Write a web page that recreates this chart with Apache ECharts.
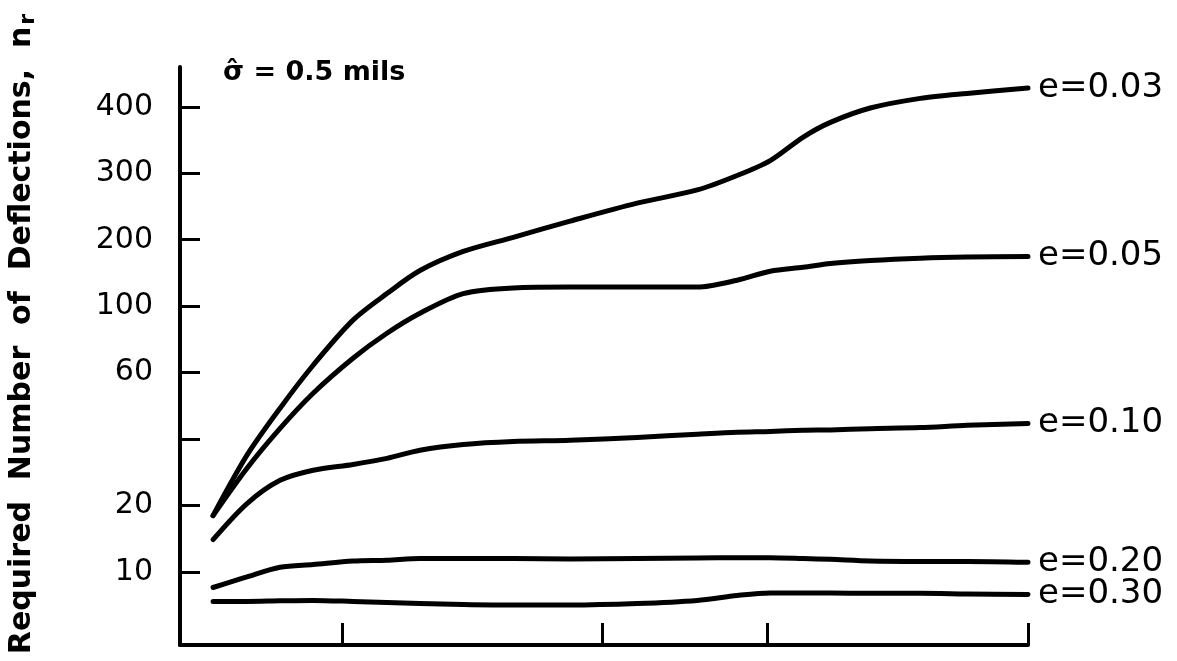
<!DOCTYPE html>
<html>
<head>
<meta charset="utf-8">
<script src="https://cdn.jsdelivr.net/npm/echarts@6/dist/echarts.min.js"></script>
<style>
  html, body { margin: 0; padding: 0; background: #fff; }
  #chart { width: 1177px; height: 661px; }
</style>
</head>
<body>
<div id="chart"></div>
<script>
// Horizontal positions of the sampled points (0 = left axis, 100 = right end)
const xPos = [3.9, 7.9, 11.8, 15.7, 20.4, 24.4, 28.3, 33.4, 39.3, 46.0, 53.9, 61.0, 65.7, 69.6, 73.5, 76.7, 81.4, 87.3, 92.8, 100];
const xTicks = [19.1, 49.8, 69.2, 100];

// Required number of deflections n_r for each tolerance e
const e003 = [18.0, 33.8, 48.3, 63.5, 89.8, 114, 145, 177, 203, 224, 250, 271, 296, 317, 351, 374, 398, 415, 424, 434];
const e005 = [18.0, 29.5, 42.7, 52.9, 67.0, 81.2, 94.7, 114, 121, 122, 122, 122, 131, 144, 150, 156, 161, 165, 167, 168];
const e010 = [14.0, 20.4, 26.0, 28.9, 30.7, 32.7, 35.6, 37.8, 39.0, 39.5, 40.4, 41.2, 41.7, 41.9, 42.2, 42.3, 42.6, 42.9, 43.5, 44.0];
const e020 = [8.5, 9.5, 10.5, 10.8, 11.2, 11.3, 11.5, 11.5, 11.5, 11.45, 11.5, 11.55, 11.6, 11.6, 11.5, 11.4, 11.2, 11.15, 11.15, 11.05];
const e030 = [7.35, 7.35, 7.4, 7.43, 7.35, 7.27, 7.19, 7.12, 7.08, 7.08, 7.19, 7.43, 7.82, 8.03, 8.03, 8.03, 8.0, 8.0, 7.95, 7.9];

const seriesNames = ['e=0.03', 'e=0.05', 'e=0.10', 'e=0.20', 'e=0.30'];
const seriesValues = [e003, e005, e010, e020, e030];

// The vertical scale places its tick values at equal steps
const yTickValues = [10, 20, 40, 60, 100, 200, 300, 400];
const yTickLabels = ['10', '20', '', '60', '100', '200', '300', '400'];

// Map n_r onto the equal-step scale (log interpolation between neighbouring ticks)
function toPos(n) {
  const t = yTickValues;
  let i = 0;
  if (n >= t[t.length - 1]) i = t.length - 2;
  else if (n > t[0]) { while (n > t[i + 1]) i++; }
  return i + Math.log(n / t[i]) / Math.log(t[i + 1] / t[i]);
}

const FONT = 'DejaVu Sans';
const chart = echarts.init(document.getElementById('chart'), null, { renderer: 'canvas' });

const series = seriesNames.map((name, s) => ({
  name: name,
  type: 'line',
  smooth: 0.3,
  showSymbol: false,
  symbol: 'none',
  data: xPos.map((x, k) => [x, toPos(seriesValues[s][k])]),
  lineStyle: { color: '#000', width: 5, cap: 'round', join: 'round' },
  endLabel: {
    show: true,
    formatter: name,
    distance: 10,
    color: '#000',
    fontFamily: FONT,
    fontSize: 34
  },
  silent: true
}));

chart.setOption({
  backgroundColor: '#fff',
  animation: false,
  grid: { left: 180, right: 149, top: 67, bottom: 16, containLabel: false },
  xAxis: {
    type: 'value',
    min: 0,
    max: 100,
    axisLine: { show: true, onZero: false, lineStyle: { color: '#000', width: 4 } },
    axisTick: { show: true, inside: true, length: 22, customValues: xTicks, lineStyle: { color: '#000', width: 3 } },
    axisLabel: { show: false },
    splitLine: { show: false }
  },
  yAxis: {
    type: 'value',
    min: -1.1,
    max: 7.6,
    axisLine: { show: true, onZero: false, lineStyle: { color: '#000', width: 4 } },
    axisTick: { show: true, inside: true, length: 20, customValues: [0, 1, 2, 3, 4, 5, 6, 7], lineStyle: { color: '#000', width: 3 } },
    axisLabel: {
      show: true,
      customValues: [0, 1, 2, 3, 4, 5, 6, 7],
      formatter: v => yTickLabels[Math.round(v)],
      margin: 27,
      color: '#000',
      fontFamily: FONT,
      fontSize: 30
    },
    splitLine: { show: false }
  },
  graphic: [
    {
      type: 'text',
      x: 22,
      y: 334,
      rotation: Math.PI / 2,
      style: {
        text: '{t|Required  Number  of  Deflections,  n}{s|r}',
        align: 'center',
        verticalAlign: 'middle',
        rich: {
          t: { fontFamily: FONT, fontWeight: 'bold', fontSize: 30, fill: '#000' },
          s: { fontFamily: FONT, fontWeight: 'bold', fontSize: 22, fill: '#000', padding: [12, 0, 0, 2] }
        }
      }
    },
    {
      type: 'text',
      x: 223,
      y: 73,
      style: {
        text: 'σ\u0302 = 0.5 mils',
        fontFamily: FONT,
        fontWeight: 'bold',
        fontSize: 27,
        fill: '#000',
        align: 'left',
        verticalAlign: 'middle'
      }
    }
  ],
  series: series
});
</script>
</body>
</html>
